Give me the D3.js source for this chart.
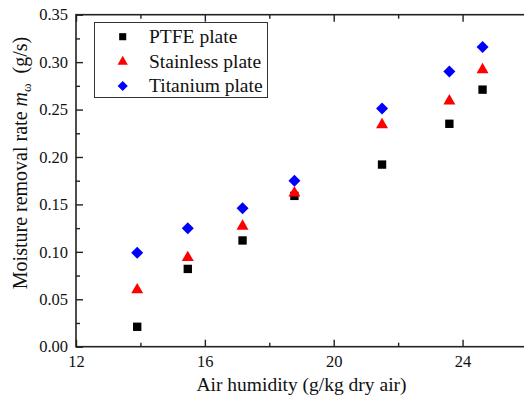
<!DOCTYPE html>
<html><head><meta charset="utf-8">
<script src="https://cdn.jsdelivr.net/npm/d3@7"></script>
<style>body{margin:0;background:#fff;} svg{display:block;} svg text{font-family:"Liberation Serif","Times New Roman","DejaVu Serif",serif !important;}</style>
</head><body>
<script>
const humidity = [13.9, 15.47, 17.17, 18.78, 21.5, 23.59, 24.62];
const ptfe = [0.021, 0.082, 0.112, 0.159, 0.192, 0.235, 0.271];
const stainless = [0.060, 0.094, 0.127, 0.162, 0.234, 0.259, 0.292];
const titanium = [0.099, 0.125, 0.146, 0.175, 0.251, 0.290, 0.316];
const seriesNames = ["PTFE plate", "Stainless plate", "Titanium plate"];
const xMajorTicks = [12, 16, 20, 24];
const yMajorTicks = [0, 0.05, 0.10, 0.15, 0.20, 0.25, 0.30, 0.35];

const W = 524, H = 397;
const m = {left: 76, top: 14.7, right: 527, bottom: 346.7};
const svg = d3.select("body").append("svg").attr("width", W).attr("height", H);

const x = d3.scaleLinear().domain([12, 26]).range([m.left, m.right]);
const y = d3.scaleLinear().domain([0, 0.35]).range([m.bottom, m.top]);

const axCol = "#222";
const xMinor = d3.range(14, 27, 4);
const yMinor = d3.range(0.025, 0.35, 0.05);

function styleTicks(g) { g.select(".domain").remove(); g.selectAll("line").attr("stroke", axCol).attr("stroke-width", 1.4); }

// bottom axis
const gx = svg.append("g").attr("transform", `translate(0,${m.bottom})`)
  .call(d3.axisBottom(x).tickValues(xMajorTicks).tickFormat(d3.format("d")).tickSizeInner(-7).tickSizeOuter(0).tickPadding(9));
styleTicks(gx);
gx.selectAll("text").attr("font-size", 16.5).attr("fill", "#111");
svg.append("g").attr("transform", `translate(0,${m.bottom})`)
  .call(d3.axisBottom(x).tickValues(xMinor).tickFormat("").tickSizeInner(-4).tickSizeOuter(0)).call(styleTicks);
// top axis
svg.append("g").attr("transform", `translate(0,${m.top})`)
  .call(d3.axisTop(x).tickValues(xMajorTicks).tickFormat("").tickSizeInner(-7).tickSizeOuter(0)).call(styleTicks);
svg.append("g").attr("transform", `translate(0,${m.top})`)
  .call(d3.axisTop(x).tickValues(xMinor).tickFormat("").tickSizeInner(-4).tickSizeOuter(0)).call(styleTicks);
// left axis
const gy = svg.append("g").attr("transform", `translate(${m.left},0)`)
  .call(d3.axisLeft(y).tickValues(yMajorTicks).tickFormat(d3.format(".2f")).tickSizeInner(-7).tickSizeOuter(0).tickPadding(8));
styleTicks(gy);
gy.selectAll("text").attr("font-size", 16.5).attr("fill", "#111");
svg.append("g").attr("transform", `translate(${m.left},0)`)
  .call(d3.axisLeft(y).tickValues(yMinor).tickFormat("").tickSizeInner(-4).tickSizeOuter(0)).call(styleTicks);

// frame
svg.append("rect").attr("x", m.left).attr("y", m.top).attr("width", m.right - m.left).attr("height", m.bottom - m.top)
  .attr("fill", "none").attr("stroke", axCol).attr("stroke-width", 1.6);

// markers
const series = [
  {vals: ptfe, color: "#000", sym: d3.symbolSquare, size: 70, rot: 0, lsize: 50},
  {vals: stainless, color: "#ff0000", sym: d3.symbolTriangle, size: 62, rot: 0, lsize: 46},
  {vals: titanium, color: "#0000ff", sym: d3.symbolSquare, size: 72, rot: 45, lsize: 52}
];
series.forEach(s => {
  svg.append("g").selectAll("path").data(humidity.map((h, i) => [h, s.vals[i]])).join("path")
    .attr("d", d3.symbol().type(s.sym).size(s.size))
    .attr("transform", d => `translate(${x(d[0])},${y(d[1])}) rotate(${s.rot})`)
    .attr("fill", s.color);
});

// legend
const lg = svg.append("g");
lg.append("rect").attr("x", 94.5).attr("y", 22.5).attr("width", 173).attr("height", 75)
  .attr("fill", "#fff").attr("stroke", "#333").attr("stroke-width", 1);
const rowsY = [36.7, 61.7, 86];
series.forEach((s, i) => {
  lg.append("path").attr("d", d3.symbol().type(s.sym).size(s.lsize))
    .attr("transform", `translate(122.7,${rowsY[i]}) rotate(${s.rot})`).attr("fill", s.color);
  lg.append("text").attr("x", 149).attr("y", rowsY[i] + 6).text(seriesNames[i])
    .attr("font-size", 19.5).attr("fill", "#111");
});

// axis titles
svg.append("text").attr("x", (m.left + m.right) / 2).attr("y", 391).attr("text-anchor", "middle")
  .attr("font-size", 19.5).attr("fill", "#111").text("Air humidity (g/kg dry air)");
const yt = svg.append("text").attr("transform", "translate(27,163) rotate(-90)").attr("text-anchor", "middle")
  .attr("font-size", 20).attr("fill", "#111").attr("xml:space", "preserve");
yt.append("tspan").text("Moisture removal rate ");
yt.append("tspan").attr("font-style", "italic").text("m");
yt.append("tspan").attr("font-size", 13).attr("dy", 4).text("ω");
yt.append("tspan").attr("dy", -4).text("  (g/s)");
</script>
</body></html>
